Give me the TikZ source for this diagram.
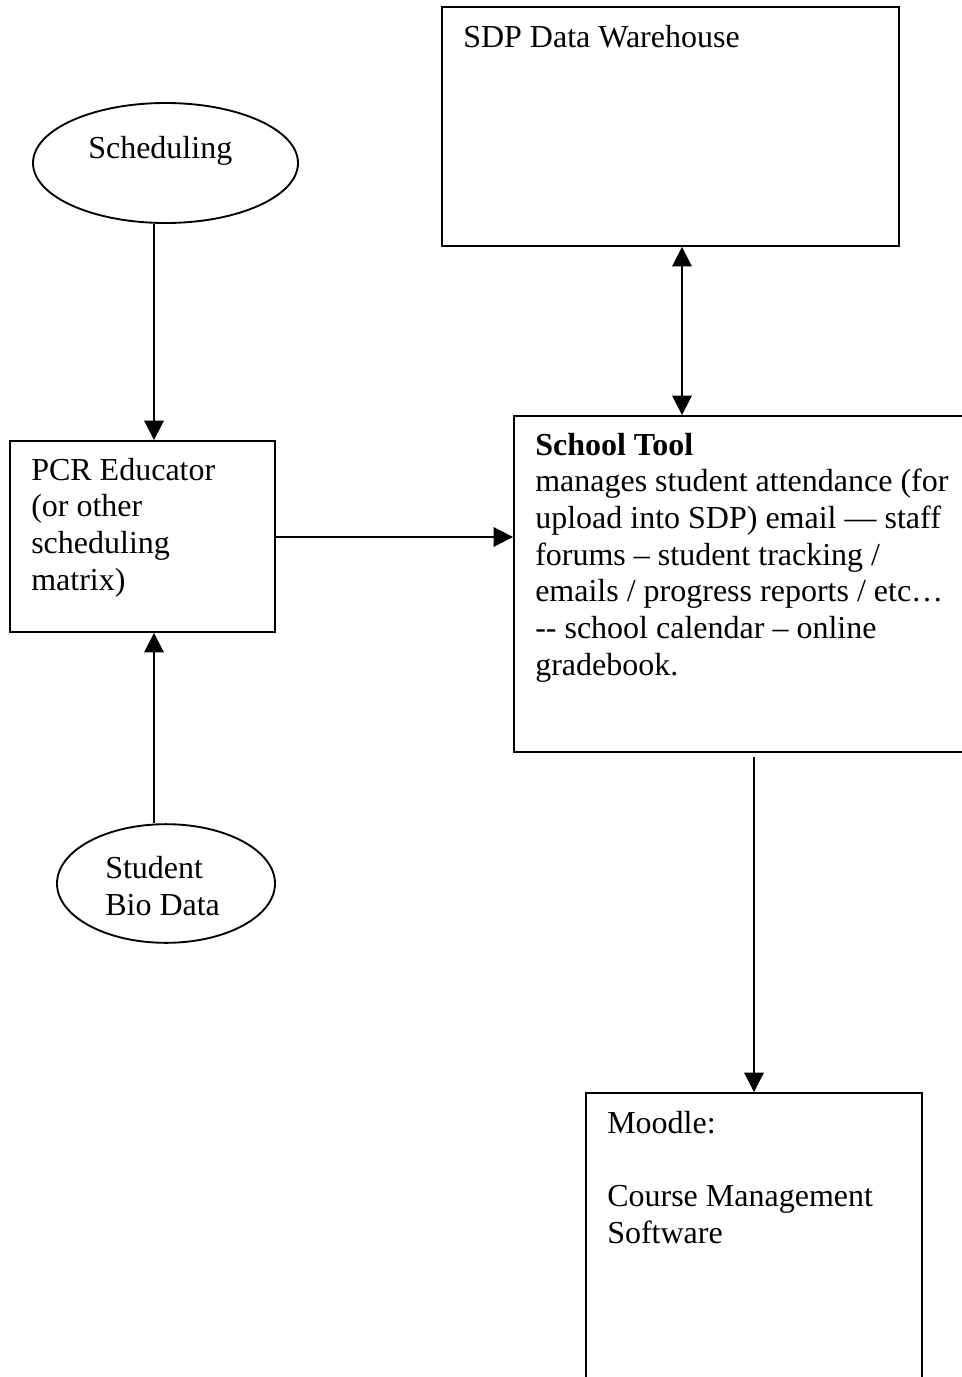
\documentclass[tikz,border=0pt]{standalone}
\usepackage{fontspec}
\setmainfont{Liberation Serif}
\usetikzlibrary{arrows.meta,shapes.geometric,fit}
\begin{document}
\begin{tikzpicture}[x=0.75pt,y=-0.75pt,
  box/.style={draw, line width=1.4pt, rectangle, inner sep=0pt},
  oval/.style={draw, line width=1.4pt, ellipse, inner sep=0pt},
  txt/.style={inner sep=0pt, align=left, anchor=base west, font=\fontsize{24}{27.5}\selectfont},
  conn/.style={line width=1.4pt, -{Triangle[length=14.5pt,width=14.5pt]}},
  conn2/.style={line width=1.4pt, {Triangle[length=14.5pt,width=14.5pt]}-{Triangle[length=14.5pt,width=14.5pt]}}
]
\useasboundingbox (0,0) rectangle (961,1377);
\fill[white] (0,0) rectangle (961,1377);

% boxes
\node[box, fit={(442,7) (899,246)}] (sdp) {};
\node[box, fit={(10,441) (275,632)}] (pcr) {};
\node[box, fit={(514,416) (980,752)}] (st) {};
\node[box, fit={(586,1093) (922,1410)}] (moodle) {};

% ellipses
\node[oval, minimum width=198.75pt, minimum height=90pt] (sched) at (165.5,163) {};
\node[oval, minimum width=163.5pt, minimum height=89pt] (bio) at (166,883.5) {};

% texts (anchored at the baseline of the last line)
\node[txt] (sdpT) at (463,48) {SDP Data Warehouse};
\node[txt] (schedT) at (88,159) {Scheduling};
\node[txt] (pcrT) at (31,590) {PCR Educator\\(or other\\scheduling\\matrix)};
\node[txt] (stT) at (535,675) {\textbf{School Tool}\\manages student attendance (for\\upload into SDP) email — staff\\forums – student tracking /\\emails / progress reports / etc…\\-{}- school calendar – online\\gradebook.};
\node[txt] (bioT) at (105,915) {Student\\Bio Data};
\node[txt] (moodleT) at (607,1243) {Moodle:\\[27.5pt]Course Management\\Software};

% connector coordinates
\coordinate (colA) at (154,0);
\coordinate (rowB) at (0,537);
\coordinate (colC) at (682,0);
\coordinate (colD) at (754,757);

% connectors
\draw[conn] (colA |- sched.south) -- (colA |- pcr.north);
\draw[conn] (colA |- bio.north) -- (colA |- pcr.south);
\draw[conn] (pcr.east |- rowB) -- (st.west |- rowB);
\draw[conn2] (colC |- sdp.south) -- (colC |- st.north);
\draw[conn] (colD) -- (colD |- moodle.north);
\end{tikzpicture}
\end{document}
